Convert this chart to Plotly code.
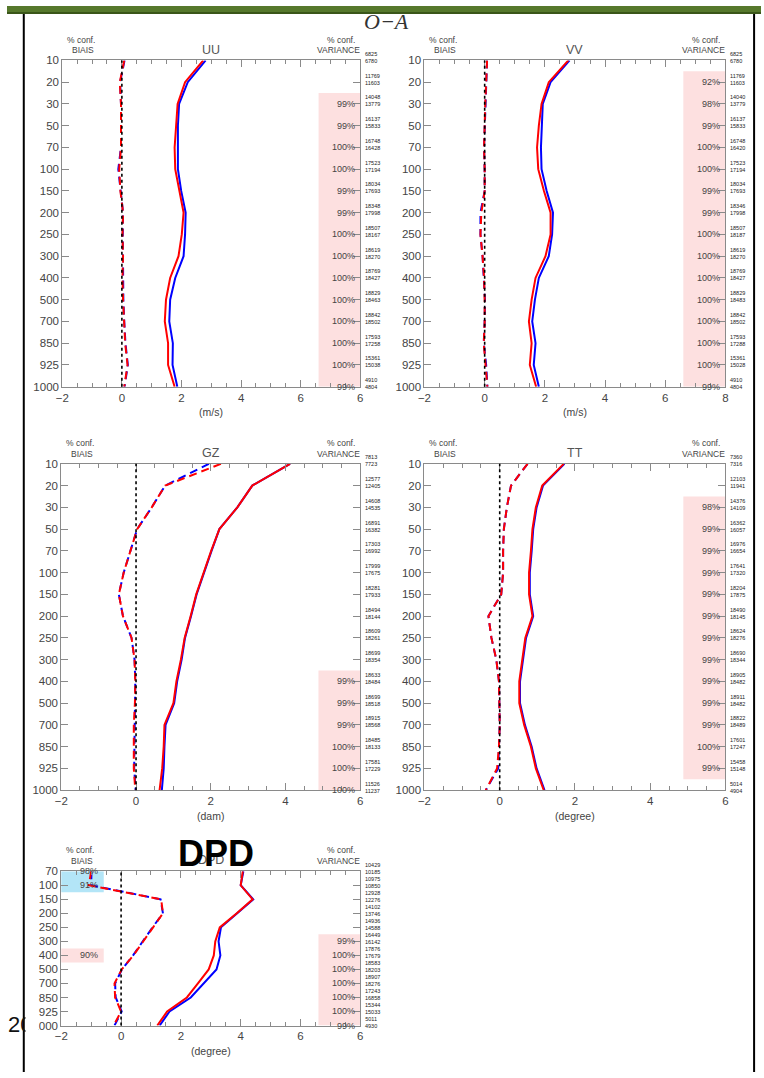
import plotly.graph_objects as go

W, H = 764, 1078

# ---------------- data ----------------
LEV = ["10", "20", "30", "50", "70", "100", "150", "200", "250", "300",
       "400", "500", "700", "850", "925", "1000"]
LEV_DPD = ["70", "100", "150", "200", "250", "300", "400", "500", "700",
           "850", "925", "1000"]

# UU (m/s)
UU_STD_EXP = [2.73, 2.12, 1.87, 1.81, 1.77, 1.79, 1.93, 2.07, 2.01, 1.90, 1.62, 1.48, 1.44, 1.55, 1.55, 1.77]
UU_STD_CTL = [2.81, 2.21, 1.92, 1.88, 1.88, 1.88, 1.99, 2.14, 2.12, 2.07, 1.79, 1.62, 1.59, 1.71, 1.70, 1.86]
UU_BIAS_EXP = [0.08, -0.07, -0.03, -0.02, -0.03, -0.09, -0.05, 0.04, 0.02, 0.04, 0.02, 0.04, 0.08, 0.11, 0.19, 0.08]
UU_BIAS_CTL = [0.09, -0.06, -0.03, -0.02, -0.03, -0.12, -0.05, 0.04, 0.03, 0.04, 0.03, 0.05, 0.08, 0.12, 0.20, 0.09]
UU_PCT = ["", "", "99%", "99%", "100%", "100%", "99%", "99%", "100%", "100%", "100%", "100%", "100%", "100%", "100%", "99%"]
UU_N1 = ["6825", "11769", "14048", "16137", "16748", "17523", "18034", "18348", "18507", "18619", "18769", "18829", "18842", "17593", "15361", "4910"]
UU_N2 = ["6780", "11603", "13779", "15833", "16428", "17194", "17693", "17998", "18167", "18270", "18427", "18463", "18502", "17258", "15038", "4804"]

# VV (m/s)
VV_STD_EXP = [2.78, 2.13, 1.89, 1.80, 1.74, 1.78, 1.97, 2.19, 2.19, 2.02, 1.69, 1.56, 1.47, 1.56, 1.50, 1.71]
VV_STD_CTL = [2.82, 2.19, 1.93, 1.89, 1.87, 1.89, 2.06, 2.27, 2.24, 2.13, 1.80, 1.67, 1.58, 1.69, 1.63, 1.80]
VV_BIAS_EXP = [0.08, 0.04, 0.02, 0.00, -0.02, 0.00, 0.00, -0.11, -0.14, -0.07, -0.02, 0.00, 0.00, -0.03, 0.04, 0.09]
VV_BIAS_CTL = [0.08, 0.05, 0.02, 0.00, -0.02, 0.00, 0.00, -0.14, -0.14, -0.07, -0.02, 0.01, 0.00, -0.03, 0.05, 0.09]
VV_PCT = ["", "92%", "98%", "99%", "100%", "100%", "99%", "99%", "100%", "100%", "100%", "100%", "100%", "100%", "100%", "99%"]
VV_N1 = ["6825", "11769", "14040", "16137", "16748", "17523", "18034", "18346", "18507", "18619", "18769", "18829", "18842", "17593", "15361", "4910"]
VV_N2 = ["6780", "11603", "13779", "15833", "16420", "17194", "17693", "17998", "18187", "18270", "18427", "18483", "18502", "17288", "15028", "4804"]

# GZ (dam)
GZ_STD_EXP = [4.12, 3.11, 2.71, 2.23, 2.01, 1.81, 1.61, 1.46, 1.30, 1.20, 1.08, 1.00, 0.76, 0.74, 0.70, 0.63]
GZ_STD_CTL = [4.12, 3.11, 2.71, 2.23, 2.02, 1.82, 1.62, 1.47, 1.31, 1.22, 1.10, 1.02, 0.79, 0.76, 0.74, 0.69]
GZ_BIAS_EXP = [2.27, 0.78, 0.42, 0.03, -0.15, -0.33, -0.46, -0.35, -0.12, -0.04, -0.02, -0.03, -0.06, -0.06, -0.06, -0.02]
GZ_BIAS_CTL = [1.95, 0.78, 0.42, 0.03, -0.15, -0.33, -0.46, -0.35, -0.12, -0.04, -0.02, -0.03, -0.05, -0.05, -0.05, -0.01]
GZ_PCT = ["", "", "", "", "", "", "", "", "", "", "99%", "99%", "99%", "100%", "100%", "100%"]
GZ_N1 = ["7813", "12577", "14608", "16891", "17303", "17999", "18281", "18494", "18609", "18699", "18633", "18699", "18915", "18485", "17581", "11526"]
GZ_N2 = ["7723", "12405", "14535", "16382", "16992", "17675", "17933", "18144", "18261", "18354", "18484", "18518", "18568", "18133", "17229", "11237"]

# TT (degree)
TT_STD_EXP = [1.70, 1.13, 0.96, 0.87, 0.83, 0.78, 0.78, 0.87, 0.68, 0.59, 0.52, 0.52, 0.65, 0.83, 0.96, 1.17]
TT_STD_CTL = [1.72, 1.15, 0.98, 0.89, 0.85, 0.80, 0.80, 0.89, 0.70, 0.61, 0.54, 0.54, 0.67, 0.85, 0.98, 1.19]
TT_BIAS_EXP = [0.74, 0.30, 0.19, 0.11, 0.09, 0.09, 0.04, -0.30, -0.22, -0.09, -0.02, 0.00, 0.00, -0.02, -0.07, -0.37]
TT_BIAS_CTL = [0.74, 0.30, 0.19, 0.11, 0.09, 0.09, 0.04, -0.30, -0.22, -0.09, -0.02, 0.00, 0.00, -0.02, -0.04, -0.37]
TT_PCT = ["", "", "98%", "99%", "99%", "99%", "99%", "99%", "99%", "99%", "99%", "99%", "99%", "100%", "99%", ""]
TT_N1 = ["7360", "12103", "14376", "16362", "16976", "17641", "18204", "18490", "18624", "18690", "18905", "18911", "18822", "17601", "15458", "5014"]
TT_N2 = ["7316", "11941", "14109", "16057", "16654", "17320", "17875", "18145", "18276", "18344", "18482", "18482", "18489", "17247", "15148", "4904"]

# DPD (degree)
DPD_STD_EXP = [4.07, 4.00, 4.40, 3.87, 3.30, 3.15, 3.10, 2.93, 2.57, 2.20, 1.54, 1.21]
DPD_STD_CTL = [4.09, 4.00, 4.42, 3.89, 3.34, 3.26, 3.32, 3.19, 2.77, 2.33, 1.62, 1.29]
DPD_BIAS_EXP = [-1.00, -1.08, 1.34, 1.40, 1.07, 0.74, 0.41, 0.02, -0.22, -0.20, 0.00, -0.25]
DPD_BIAS_CTL = [-0.99, -1.00, 1.32, 1.40, 1.05, 0.72, 0.40, 0.03, -0.20, -0.18, 0.02, -0.22]
DPD_PCT = ["", "", "", "", "", "99%", "100%", "100%", "100%", "100%", "100%", "99%"]
DPD_PCT_BIAS = ["98%", "91%", "", "", "", "", "90%", "", "", "", "", ""]
DPD_N1 = ["10429", "10975", "12928", "14102", "14936", "16449", "17876", "18583", "18907", "17243", "15344", "5011"]
DPD_N2 = ["10185", "10850", "12276", "13746", "14588", "16142", "17679", "18203", "18276", "16858", "15033", "4930"]

TICKS_8 = [-2, 0, 2, 4, 6, 8]
TICKTEXT_UU = ["−2", "0", "2", "4", "6", "6"]
TICKTEXT_VV = ["−2", "0", "2", "4", "6", "8"]
TICKS_6 = [-2, 0, 2, 4, 6]
TICKTEXT_6 = ["−2", "0", "2", "4", "6"]

# ---------------- layout helpers ----------------
RED = "#ff0000"
BLUE = "#0000ff"
AXC = "#8a8a8a"
TXT = "#444444"
PINK = "#fde0e0"
CYAN = "#b3e5f7"
FONT = "Liberation Sans"

def px(x):
    return x / W

def py(y):
    return 1 - y / H

panels = [
    dict(name="UU", box=(56, 358, 55, 385), lev=LEV, xr=[-2, 8], tv=TICKS_8, tt=TICKTEXT_UU,
         unit="(m/s)", sc=UU_STD_CTL, se=UU_STD_EXP, bc=UU_BIAS_CTL, be=UU_BIAS_EXP,
         pct=UU_PCT, n1=UU_N1, n2=UU_N2, pink=[(1.5, 15)]),
    dict(name="VV", box=(423, 728, 55, 385), lev=LEV, xr=[-2, 8], tv=TICKS_8, tt=TICKTEXT_VV,
         unit="(m/s)", sc=VV_STD_CTL, se=VV_STD_EXP, bc=VV_BIAS_CTL, be=VV_BIAS_EXP,
         pct=VV_PCT, n1=VV_N1, n2=VV_N2, pink=[(0.5, 15)]),
    dict(name="GZ", box=(55, 358, 463, 793), lev=LEV, xr=[-2, 6], tv=TICKS_6, tt=TICKTEXT_6,
         unit="(dam)", sc=GZ_STD_CTL, se=GZ_STD_EXP, bc=GZ_BIAS_CTL, be=GZ_BIAS_EXP,
         pct=GZ_PCT, n1=GZ_N1, n2=GZ_N2, pink=[(9.5, 15)]),
    dict(name="TT", box=(423, 728, 463, 793), lev=LEV, xr=[-2, 6], tv=TICKS_6, tt=TICKTEXT_6,
         unit="(degree)", sc=TT_STD_CTL, se=TT_STD_EXP, bc=TT_BIAS_CTL, be=TT_BIAS_EXP,
         pct=TT_PCT, n1=TT_N1, n2=TT_N2, pink=[(1.5, 14.5)]),
    dict(name="DPD", box=(55, 358, 875, 1031), lev=LEV_DPD, xr=[-2, 8], tv=TICKS_8, tt=TICKTEXT_UU,
         unit="(degree)", sc=DPD_STD_CTL, se=DPD_STD_EXP, bc=DPD_BIAS_CTL, be=DPD_BIAS_EXP,
         pct=DPD_PCT, n1=DPD_N1, n2=DPD_N2, pink=[(4.5, 11)]),
]

fig = go.Figure()
shapes = []
annotations = []

def ann(text, x, y, size, color=TXT, xanchor="center", yanchor="middle", **kw):
    d = dict(text=text, x=px(x), y=py(y), xref="paper", yref="paper",
             xanchor=xanchor, yanchor=yanchor, showarrow=False,
             font=dict(family=kw.pop("family", FONT), size=size, color=color))
    d.update(kw)
    annotations.append(d)

layout_axes = {}
for i, p in enumerate(panels, start=1):
    sfx = "" if i == 1 else str(i)
    xa, ya = "x" + sfx, "y" + sfx
    x0, x1, y0, y1 = p["box"]
    n = len(p["lev"])

    layout_axes["xaxis" + sfx] = dict(
        domain=[px(x0), px(x1)], anchor=ya, range=p["xr"], tickmode="array",
        tickvals=p["tv"], ticktext=p["tt"], ticks="inside", ticklen=7, tickcolor=AXC,
        showline=True, linecolor=AXC, linewidth=1, mirror="ticks", showgrid=False,
        zeroline=False, tickfont=dict(family=FONT, size=11.5, color=TXT),
        minor=dict(tickmode="linear", tick0=-2, dtick=0.5, ticks="inside", ticklen=4,
                   tickcolor=AXC, showgrid=False),
    )
    layout_axes["yaxis" + sfx] = dict(
        domain=[py(y1), py(y0)], anchor=xa, type="category",
        categoryorder="array", categoryarray=p["lev"], range=[n - 1, 0],
        ticks="inside", ticklen=7, tickcolor=AXC, showline=True, linecolor=AXC,
        linewidth=1, mirror="ticks", showgrid=False, zeroline=False,
        tickfont=dict(family=FONT, size=11.5, color=TXT),
    )

    for (a, b) in p["pink"]:
        shapes.append(dict(type="rect", xref=xa + " domain", yref=ya, x0=0.86, x1=1,
                           y0=a, y1=b, fillcolor=PINK, line=dict(width=0), layer="below"))
    if p["name"] == "DPD":
        shapes.append(dict(type="rect", xref=xa + " domain", yref=ya, x0=0, x1=0.142,
                           y0=0, y1=1.5, fillcolor=CYAN, line=dict(width=0), layer="below"))
        shapes.append(dict(type="rect", xref=xa + " domain", yref=ya, x0=0, x1=0.142,
                           y0=5.5, y1=6.5, fillcolor=PINK, line=dict(width=0), layer="below"))
        for k, t in enumerate(DPD_PCT_BIAS):
            if t:
                annotations.append(dict(text=t, x=0.14, xref=xa + " domain", y=k, yref=ya,
                                        xanchor="right", xshift=-3, showarrow=False,
                                        font=dict(family=FONT, size=9, color=TXT)))

    shapes.append(dict(type="line", xref=xa, yref=ya + " domain", x0=0, x1=0, y0=0, y1=1,
                       line=dict(color="black", width=1.6, dash="dot")))

    fig.add_trace(go.Scatter(x=p["sc"], y=p["lev"], xaxis=xa, yaxis=ya, mode="lines",
                             line=dict(color=BLUE, width=2), showlegend=False))
    fig.add_trace(go.Scatter(x=p["se"], y=p["lev"], xaxis=xa, yaxis=ya, mode="lines",
                             line=dict(color=RED, width=2), showlegend=False))
    fig.add_trace(go.Scatter(x=p["bc"], y=p["lev"], xaxis=xa, yaxis=ya, mode="lines",
                             line=dict(color=BLUE, width=2, dash="8px,5px"), showlegend=False))
    fig.add_trace(go.Scatter(x=p["be"], y=p["lev"], xaxis=xa, yaxis=ya, mode="lines",
                             line=dict(color=RED, width=2, dash="8px,5px"), showlegend=False))

    for k, (t, a, b) in enumerate(zip(p["pct"], p["n1"], p["n2"])):
        if t:
            annotations.append(dict(text=t, x=1, xref=xa + " domain", y=k, yref=ya,
                                    xanchor="right", xshift=-3, showarrow=False,
                                    font=dict(family=FONT, size=9, color=TXT)))
        annotations.append(dict(text=a + "<br>" + b, x=1, xref=xa + " domain", y=k, yref=ya,
                                xanchor="left", xshift=3, yshift=3, showarrow=False,
                                font=dict(family=FONT, size=5.5, color="#222")))

    top = y0
    ann("% conf.", x0 + 19, top - 21, 8.5)
    ann("BIAIS", x0 + 21, top - 10, 8.5)
    ann("% conf.", x1 - 20, top - 21, 8.5)
    ann("VARIANCE", x1 - 22, top - 10, 8.5)
    ann(p["name"], (x0 + x1) / 2, top - 11, 12.5, color="#555")
    ann(p["unit"], (x0 + x1) / 2, y1 + 26, 10.5)

# page decorations (top band of the slide, frame lines)
shapes.append(dict(type="rect", xref="paper", yref="paper", x0=0, x1=1, y0=py(6), y1=1,
                   fillcolor="#56782c", line=dict(width=0), layer="below"))
shapes.append(dict(type="line", xref="paper", yref="paper", x0=0, x1=1, y0=py(7), y1=py(7),
                   line=dict(color="#3a5619", width=2)))
shapes.append(dict(type="line", xref="paper", yref="paper", x0=px(17), x1=px(17), y0=0, y1=py(8),
                   line=dict(color="black", width=2)))
shapes.append(dict(type="line", xref="paper", yref="paper", x0=px(757), x1=px(757), y0=0, y1=py(8),
                   line=dict(color="black", width=2)))

ann("<i>O−A</i>", 385, 16, 22, color="#333", family="Liberation Serif")
ann("<b>DPD</b>", 212, 857, 36, color="black")
ann("20", -1, 1030, 22, color="#111", xanchor="left")
annotations.append(dict(text="", x=px(18), y=py(1030), xref="paper", yref="paper",
                        xanchor="left", yanchor="middle", width=10, height=26,
                        bgcolor="white", showarrow=False))

fig.update_layout(
    width=W, height=H, margin=dict(l=0, r=0, t=0, b=0),
    paper_bgcolor="white", plot_bgcolor="white", showlegend=False,
    shapes=shapes, annotations=annotations, **layout_axes,
)

POST = (
    "document.documentElement.style.margin='0';"
    "document.documentElement.style.padding='0';"
    "document.documentElement.style.overflow='hidden';"
    "document.body.style.margin='0';document.body.style.padding='0';"
    "document.body.style.overflow='hidden';"
)

fig.write_html("out.html", config={"displayModeBar": False}, post_script=POST)
